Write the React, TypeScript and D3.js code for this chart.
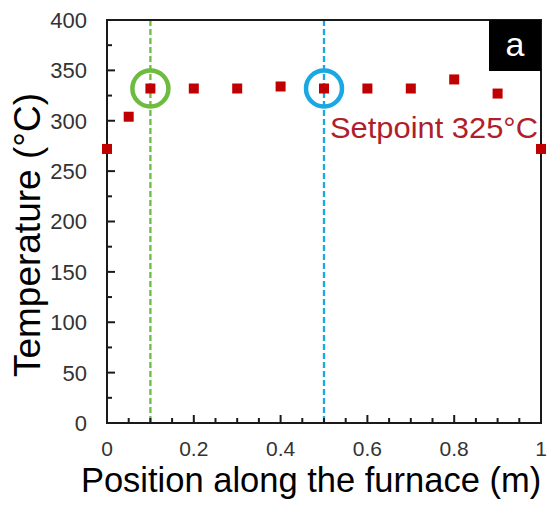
import React from "react";
import * as d3 from "d3";

const positions = [0, 0.05, 0.1, 0.2, 0.3, 0.4, 0.5, 0.6, 0.7, 0.8, 0.9, 1.0];
const temperatures = [272, 304, 332, 332, 332, 334, 332, 332, 332, 341, 327, 272];
const yTicks = [0, 50, 100, 150, 200, 250, 300, 350, 400];
const xTicks = [0, 0.2, 0.4, 0.6, 0.8, 1];
const xTickLabels = ["0", "0.2", "0.4", "0.6", "0.8", "1"];
const highlights = [
  { x: 0.1, y: 332, color: "#6dbb3f" },
  { x: 0.5, y: 332, color: "#1aa8e2" },
];
const setpointLabel = "Setpoint 325°C";
const panelLabel = "a";

const W = 558;
const H = 513;
const M = { left: 107, right: 541, top: 20, bottom: 423 };
const FONT = "'Liberation Sans', Arial, Helvetica, sans-serif";

export default function App() {
  const x = d3.scaleLinear().domain([0, 1]).range([M.left, M.right]);
  const y = d3.scaleLinear().domain([0, 400]).range([M.bottom, M.top]);
  const xMinor = d3.range(0, 1.0001, 0.05);
  const yMinor = d3.range(0, 400.001, 25);
  const sq = 10;
  return (
    <svg
      width={W}
      height={H}
      style={{ position: "fixed", left: 0, top: 0, background: "#fff" }}
      fontFamily={FONT}
    >
      <rect x={0} y={0} width={W} height={H} fill="#fff" />
      {/* dashed verticals */}
      {highlights.map((h, i) => (
        <line
          key={"v" + i}
          x1={x(h.x)}
          x2={x(h.x)}
          y1={y(400)}
          y2={y(0)}
          stroke={h.color}
          strokeWidth={2.3}
          strokeDasharray="6,3"
        />
      ))}
      {/* frame */}
      <rect
        x={M.left}
        y={M.top}
        width={M.right - M.left}
        height={M.bottom - M.top}
        fill="none"
        stroke="#1a1a1a"
        strokeWidth={2}
      />
      {/* y ticks */}
      {yMinor.map((v, i) => {
        const major = Math.round(v) % 50 === 0;
        return (
          <line
            key={"yt" + i}
            x1={M.left}
            x2={M.left + (major ? 8 : 5)}
            y1={y(v)}
            y2={y(v)}
            stroke="#1a1a1a"
            strokeWidth={2}
          />
        );
      })}
      {yTicks.map((v) => (
        <text
          key={"yl" + v}
          x={M.left - 20}
          y={y(v)}
          dy="0.36em"
          textAnchor="end"
          fontSize={22}
          fill="#333"
        >
          {v}
        </text>
      ))}
      {/* x ticks */}
      {xMinor.map((v, i) => {
        const major = Math.round(v * 100) % 20 === 0;
        return (
          <line
            key={"xt" + i}
            x1={x(v)}
            x2={x(v)}
            y1={M.bottom}
            y2={M.bottom - (major ? 8 : 5)}
            stroke="#1a1a1a"
            strokeWidth={2}
          />
        );
      })}
      {xTicks.map((v, i) => (
        <text
          key={"xl" + i}
          x={x(v)}
          y={456}
          textAnchor="middle"
          fontSize={21}
          fill="#333"
        >
          {xTickLabels[i]}
        </text>
      ))}
      {/* panel label */}
      <rect x={489} y={M.top} width={M.right - 489} height={51} fill="#000" />
      <text
        x={(489 + M.right) / 2}
        y={M.top + 36}
        textAnchor="middle"
        fontSize={34}
        fill="#fff"
      >
        {panelLabel}
      </text>
      {/* circles */}
      {highlights.map((h, i) => (
        <circle
          key={"c" + i}
          cx={x(h.x)}
          cy={y(h.y)}
          r={18}
          fill="none"
          stroke={h.color}
          strokeWidth={4.5}
        />
      ))}
      {/* markers */}
      {positions.map((p, i) => (
        <rect
          key={"m" + i}
          x={x(p) - sq / 2}
          y={y(temperatures[i]) - sq / 2}
          width={sq}
          height={sq}
          fill="#c00000"
        />
      ))}
      <text x={330} y={138} fontSize={30} fill="#b01e2c" textLength={208} lengthAdjust="spacingAndGlyphs">
        {setpointLabel}
      </text>
      {/* axis titles */}
      <text x={311} y={492} textAnchor="middle" fontSize={34.5} fill="#000">
        Position along the furnace (m)
      </text>
      <text
        transform={`translate(40,235) rotate(-90)`}
        textAnchor="middle"
        fontSize={37}
        fill="#000"
      >
        Temperature (°C)
      </text>
    </svg>
  );
}
